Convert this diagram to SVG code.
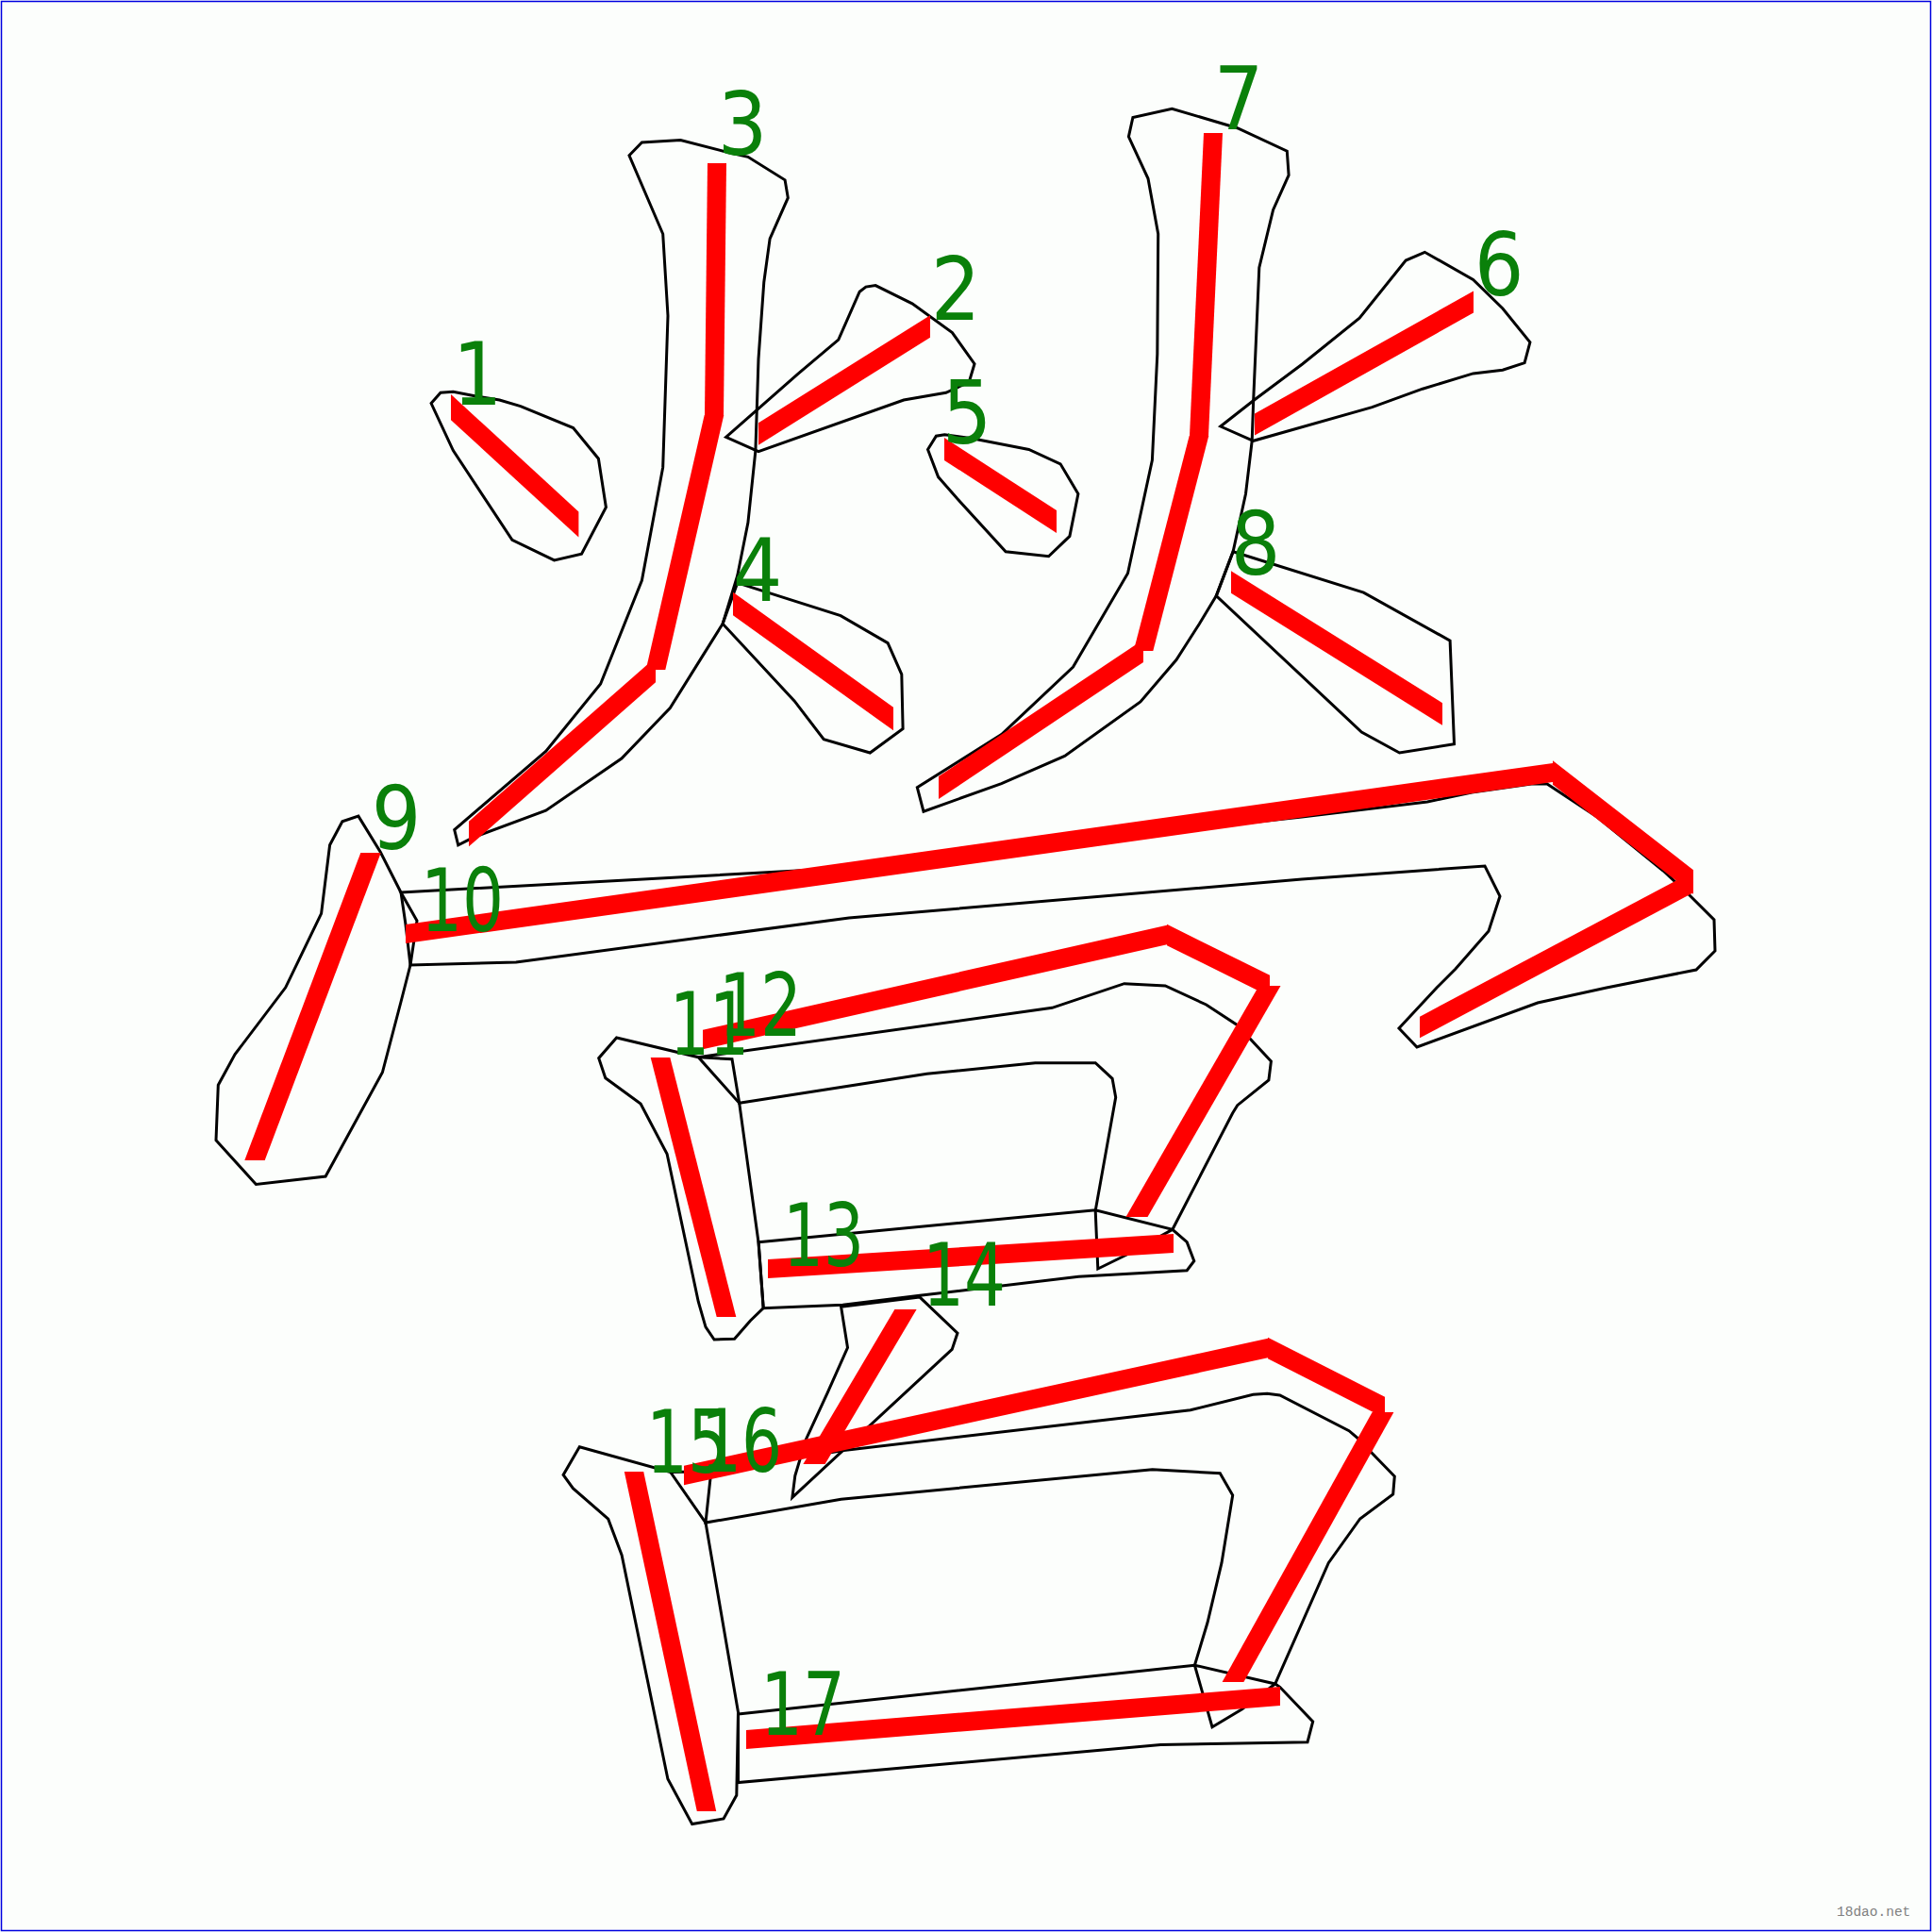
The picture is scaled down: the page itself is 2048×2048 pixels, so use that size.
<svg xmlns="http://www.w3.org/2000/svg" width="2048" height="2048" viewBox="0 0 2048 2048">
<style>
.o{fill:none;stroke:#000;stroke-width:3;stroke-linejoin:miter}
.r{fill:#ff0000;stroke:none}
.n{font-family:"Liberation Sans Narrow","DejaVu Sans Condensed","Liberation Sans",sans-serif;font-size:92px;fill:#0a800a;text-anchor:middle}
.w{font-family:"Liberation Mono","DejaVu Sans Mono",monospace;font-size:14.5px;fill:#808080}
</style>
<rect x="0" y="0" width="2048" height="2048" fill="#fcfefc"/>
<rect x="1.5" y="1.5" width="2045" height="2045" fill="none" stroke="#0000e0" stroke-width="1.5"/>
<g id="outlines">
<polygon id="o1" class="o" points="457.1,427.6 467,416.3 480.4,415.3 507.1,420.4 529.5,424 551.8,430.6 607.6,453.6 634.4,486.2 642.4,537.8 616.5,587.2 587.5,593.9 542.9,572.4 480.4,477.6"/>
<polygon id="o2" class="o" points="769.6,463.3 846.4,395.9 888.8,360.2 911.2,309.2 917.9,304.1 928.1,302.6 967,321.9 1009.4,352.6 1033,385.7 1027.2,405.1 1002.7,416.3 958,424 804,478.6"/>
<polygon id="o3" class="o" points="667,164.8 680.4,151 721.4,148.5 770.5,161.2 792.9,166.3 832.1,190.8 835.3,209.7 816.1,253.1 809.8,299 804,380.6 800.9,477.6 792.9,554.1 781.7,610.2 766.1,661.2 743.8,696.9 710.3,750.5 658.9,804.1 578.6,859.2 500.4,888.3 485.7,895.9 481.7,879.6 578.6,796.4 636.6,725 680.4,615.3 702.7,495.4 708,334.7 702.7,248"/>
<polygon id="o4" class="o" points="781.7,617.9 891.1,652.6 941.1,681.6 955.8,714.8 957.1,772.4 922.3,798 873.2,783.7 842,742.9 766.1,661.2"/>
<polygon id="o5" class="o" points="983.5,476.5 992.4,462.2 1001.3,460.7 1030.4,464.8 1090.6,476.5 1124.1,491.8 1142.9,523.5 1133.9,568.4 1111.6,589.8 1066.1,584.7 1014.7,528.6 994.6,505.6"/>
<polygon id="o6" class="o" points="1293.8,452 1329.5,424 1380.8,385.7 1441.1,337.2 1490.2,276 1510.3,267.3 1561.6,296.4 1592.9,327 1621.9,362.8 1616.1,384.7 1592.9,392.3 1561.6,395.9 1508,412.2 1454.5,431.6 1328.6,467.3"/>
<polygon id="o7" class="o" points="1196.4,144.9 1200.9,124.5 1242.4,115.3 1311.6,135.7 1364.3,160.2 1366.1,185.7 1349.6,222.4 1334.8,283.7 1331.7,355.1 1328.6,426.5 1327.2,467.3 1320.5,523.5 1307.1,584.7 1289.3,631.6 1271.4,661.2 1246.9,699.5 1208.9,743.9 1128.6,801.5 1061.6,830.6 979,860.2 972.3,834.7 1061.6,778.6 1137.5,707.1 1195.5,607.7 1221.4,487.8 1226.8,375.5 1227.7,248 1217,189.3"/>
<polygon id="o8" class="o" points="1307.1,584.7 1445.5,628.1 1537.1,679.1 1541.5,788.8 1483.5,798 1443.3,776 1289.3,631.6"/>
<polygon id="o9" class="o" points="349.6,895.7 362.9,870.8 379.9,865.1 403.3,903.3 425,946 430,980 435,1023 425,1062 405.4,1136.8 345.1,1247 271.4,1255.4 229,1208.7 231.3,1150.2 249.1,1117.6 302.7,1046.8 340.6,968.4"/>
<path id="o10" class="o" d="M425,946 L900,920 L1260,879 L1380,866 L1513,850 L1560,840 L1623,831 L1640,831 L1693,866 L1763,923 L1790,948 L1817,975 L1818,1008 L1798,1028 L1703,1047 L1630,1063 L1502,1110 L1483,1090 L1523,1047 L1543,1027 L1578,987 L1590,950 L1574,918 L1380,932 L900,973 L547,1020 L435,1023 L442,976 Z"/>
<polygon id="o11" class="o" points="653.6,1100 740.3,1120.7 783.7,1169.3 804,1316.7 809.2,1386.7 795.4,1400 778.6,1419.3 757.1,1420 748,1406.7 740.3,1380 707.1,1223.3 679.1,1170 641.8,1142.7 634.7,1121.7"/>
<path id="o12" class="o" d="M740.3,1120.7 L1115.3,1068.3 L1191.8,1042.7 L1235.2,1045 L1278.6,1065 L1311.7,1086.7 L1347.4,1125 L1344.9,1145 L1311.7,1171.7 L1306.6,1180 L1242.9,1303.3 L1194.4,1330 L1163.8,1345 L1161.2,1283.3 L1182.7,1163.3 L1179.1,1143.3 L1161.2,1126.7 L1097.4,1126.7 L982.7,1138.3 L783.7,1169.3 L776,1122.7 Z"/>
<polygon id="o13" class="o" points="804.1,1316.7 1161.2,1282.7 1242.9,1303.3 1258.2,1316.7 1265.8,1336.7 1258.2,1346.7 1143.4,1353.3 975,1373.3 893.4,1383.3 809.2,1386.7"/>
<polygon id="o14" class="o" points="891.6,1385.2 898.5,1428.5 877.2,1476.3 854.3,1526 842.8,1564.3 839.9,1587.3 1009.2,1430.4 1015,1413.1 974.8,1374.9"/>
<polygon id="o15" class="o" points="614.3,1533.7 710.7,1560.5 748,1614.1 782.5,1815 780.8,1903 767,1927.9 733.7,1933.6 707.9,1885.8 659.1,1648.5 644.7,1610.2 607.4,1577.7 597.1,1563.5"/>
<path id="o16" class="o" d="M710.7,1560.5 L753.8,1559.7 L894.4,1537.5 L1261.8,1494.7 L1328.3,1478.3 L1343.3,1477.3 L1356.7,1479 L1430,1516.7 L1441.7,1526.7 L1453.3,1539.3 L1478.3,1565 L1476.7,1584 L1441.7,1610 L1408.3,1656.7 L1351.7,1785 L1316.7,1811.7 L1285,1830.7 L1266.4,1765.2 L1280,1720 L1295,1656.7 L1306.7,1585 L1293.3,1561.7 L1221.6,1557.8 L891.6,1589.2 L748,1614.1 L753.8,1559.7"/>
<polygon id="o17" class="o" points="782.5,1816.9 1266.4,1765.2 1351.7,1785 1356.7,1788.3 1391.7,1825 1386,1846.7 1230.3,1849.4 782.5,1889.6"/>
</g>
<g id="order-lines">
<polygon id="r1" class="r" points="478,418 613.4,542.4 613.4,569.6 478,445.2"/>
<polygon id="r2" class="r" points="804,448.2 986,334.2 986,357.8 804,471.8"/>
<g id="r3">
<polygon class="r" points="750,173 770,173 767,440 747,440"/>
<polygon class="r" points="746.7,440 767.3,440 705.3,710 684.7,710"/>
<polygon class="r" points="695,696.7 695,723.3 497,897.3 497,870.7"/>
</g>
<polygon id="r4" class="r" points="777,627.7 947,749.7 947,774.3 777,652.3"/>
<polygon id="r5" class="r" points="1001,464.1 1120,541.1 1120,564.9 1001,487.9"/>
<polygon id="r6" class="r" points="1330,438.5 1562,308.5 1562,331.5 1330,461.5"/>
<g id="r7">
<polygon class="r" points="1276,141 1296,141 1281,462 1261,462"/>
<polygon class="r" points="1260.7,462 1281.3,462 1222.3,690 1201.7,690"/>
<polygon class="r" points="1212,678 1212,702 995,847 995,823"/>
</g>
<polygon id="r8" class="r" points="1305,605.2 1529,745.2 1529,768.8 1305,628.8"/>
<polygon id="r9" class="r" points="382.3,904 403.7,904 280.7,1230 259.3,1230"/>
<g id="r10">
<polygon class="r" points="430,979.9 1646,808.9 1646,829.1 430,1000.1"/>
<polygon class="r" points="1646,806.3 1795,922.3 1795,947.7 1646,831.7"/>
<polygon class="r" points="1795,923.7 1795,946.3 1505,1100.3 1505,1077.7"/>
</g>
<polygon id="r11" class="r" points="689.7,1121 710.3,1121 780.3,1396 759.7,1396"/>
<g id="r12">
<polygon class="r" points="745,1091.75 1237,980.75 1237,1001.25 745,1112.25"/>
<polygon class="r" points="1237,979.8 1346,1033.8 1346,1056.2 1237,1002.2"/>
<polygon class="r" points="1334.5,1045 1357.5,1045 1216.5,1290 1193.5,1290"/>
</g>
<polygon id="r13" class="r" points="814,1335 1244,1308 1244,1328 814,1355"/>
<polygon id="r14" class="r" points="948.4,1388 971.6,1388 874.6,1552 851.4,1552"/>
<polygon id="r15" class="r" points="661.8,1560 682.2,1560 759.2,1920 738.8,1920"/>
<g id="r16">
<polygon class="r" points="725,1553.8 1344,1418.8 1344,1439.2 725,1574.2"/>
<polygon class="r" points="1344,1417.75 1468,1480.75 1468,1503.25 1344,1440.25"/>
<polygon class="r" points="1454.6,1497 1477.4,1497 1318.4,1783 1295.6,1783"/>
</g>
<polygon id="r17" class="r" points="791,1834 1357,1788 1357,1808 791,1854"/>
</g>
<g id="labels">
<text class="n" x="506" y="429">1</text>
<text class="n" x="1013" y="339">2</text>
<text class="n" x="787" y="164">3</text>
<text class="n" x="803" y="637">4</text>
<text class="n" x="1025" y="470">5</text>
<text class="n" x="1589" y="313">6</text>
<text class="n" x="1313" y="137">7</text>
<text class="n" x="1331" y="609">8</text>
<text class="n" x="420" y="900">9</text>
<text class="n" x="490" y="987" textLength="88" lengthAdjust="spacingAndGlyphs">10</text>
<text class="n" x="752" y="1118" textLength="84" lengthAdjust="spacingAndGlyphs">11</text>
<text class="n" x="806" y="1098" textLength="88" lengthAdjust="spacingAndGlyphs">12</text>
<text class="n" x="873" y="1342" textLength="86" lengthAdjust="spacingAndGlyphs">13</text>
<text class="n" x="1022" y="1384" textLength="88" lengthAdjust="spacingAndGlyphs">14</text>
<text class="n" x="729" y="1561" textLength="88" lengthAdjust="spacingAndGlyphs">15</text>
<text class="n" x="786" y="1560" textLength="86" lengthAdjust="spacingAndGlyphs">16</text>
<text class="n" x="851" y="1839" textLength="90" lengthAdjust="spacingAndGlyphs">17</text>
</g>
<text id="watermark" class="w" x="1947" y="2031">18dao.net</text>
</svg>
